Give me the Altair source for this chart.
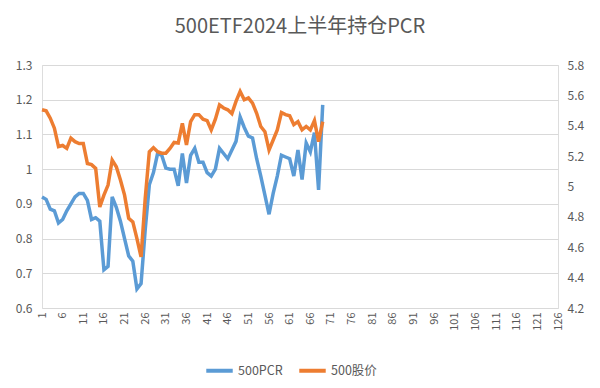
import altair as alt
import pandas as pd

title_text = "500ETF2024上半年持仓PCR"
series_names = ["500PCR", "500股价"]
series_colors = ["#5B9BD5", "#ED7D31"]

pcr = [0.92, 0.913, 0.885, 0.88, 0.845, 0.855, 0.88, 0.90, 0.92, 0.93,
       0.93, 0.91, 0.855, 0.86, 0.85, 0.71, 0.72, 0.92, 0.89, 0.85,
       0.80, 0.75, 0.735, 0.655, 0.67, 0.825, 0.955, 0.99, 1.045, 1.04,
       1.003, 1.0, 1.0, 0.952, 1.045, 0.96, 1.04, 1.06, 1.02, 1.02,
       0.99, 0.98, 1.0, 1.06, 1.045, 1.03, 1.055, 1.08, 1.15, 1.12,
       1.095, 1.09, 1.03, 0.98, 0.925, 0.87, 0.93, 0.98, 1.04, 1.035,
       1.03, 0.98, 1.055, 0.97, 1.075, 1.05, 1.105, 0.94, 1.185]

price = [5.505, 5.498, 5.450, 5.384, 5.263, 5.270, 5.251, 5.318, 5.295, 5.283,
         5.283, 5.151, 5.144, 5.119, 4.865, 4.943, 5.009, 5.174, 5.130, 5.043,
         4.943, 4.790, 4.767, 4.657, 4.536, 4.920, 5.229, 5.256, 5.229, 5.219,
         5.219, 5.251, 5.290, 5.286, 5.416, 5.274, 5.427, 5.473, 5.473, 5.443,
         5.434, 5.373, 5.443, 5.537, 5.517, 5.505, 5.480, 5.560, 5.626, 5.571,
         5.583, 5.549, 5.482, 5.395, 5.361, 5.240, 5.306, 5.373, 5.487, 5.473,
         5.466, 5.407, 5.427, 5.373, 5.395, 5.373, 5.434, 5.295, 5.427]

x_ticks = list(range(1, 127, 5))
left_ticks = [0.6, 0.7, 0.8, 0.9, 1.0, 1.1, 1.2, 1.3]
right_ticks = [4.2, 4.4, 4.6, 4.8, 5.0, 5.2, 5.4, 5.6, 5.8]

df = pd.DataFrame({"day": list(range(1, len(pcr) + 1)), "pcr": pcr, "price": price})

FONT = "Noto Sans CJK SC"
GRAY = "#595959"

x_enc = alt.X(
    "day:Q",
    scale=alt.Scale(domain=[1, 126], nice=False, zero=False),
    axis=alt.Axis(values=x_ticks, labelAngle=-90, grid=False, domain=False,
                  ticks=False, title=None, labelFontSize=11, labelColor=GRAY,
                  labelFont=FONT, labelPadding=4, labelOverlap=False),
)

color_scale = alt.Scale(domain=series_names, range=series_colors)
legend = alt.Legend(title=None, orient="none", direction="horizontal",
                    legendX=162, legendY=290, symbolType="stroke",
                    symbolStrokeWidth=4, symbolSize=700, labelFontSize=12.5,
                    labelColor=GRAY, labelFont=FONT, columnPadding=8,
                    labelOffset=3)

pcr_line = alt.Chart(df).mark_line(strokeWidth=3.5).encode(
    x=x_enc,
    y=alt.Y("pcr:Q", scale=alt.Scale(domain=[0.6, 1.3], nice=False, zero=False),
            axis=alt.Axis(values=left_ticks, format=".1~f", grid=True,
                          gridColor="#D9D9D9", gridWidth=1, domain=False,
                          ticks=False, title=None, labelFontSize=12,
                          labelColor=GRAY, labelFont=FONT, labelPadding=10)),
    color=alt.Color("s:N", scale=color_scale, legend=legend),
).transform_calculate(s="'500PCR'")

price_line = alt.Chart(df).mark_line(strokeWidth=3.5).encode(
    x=x_enc,
    y=alt.Y("price:Q", scale=alt.Scale(domain=[4.2, 5.8], nice=False, zero=False),
            axis=alt.Axis(values=right_ticks, format=".1~f", grid=False,
                          domain=False, ticks=False, title=None, orient="right",
                          labelFontSize=12, labelColor=GRAY, labelFont=FONT,
                          labelPadding=9)),
    color=alt.Color("s:N", scale=color_scale, legend=legend),
).transform_calculate(s="'500股价'")

chart = alt.layer(pcr_line, price_line).resolve_scale(y="independent").properties(
    width=516,
    height=243,
    autosize=alt.AutoSizeParams(type="none"),
    padding={"left": 34, "top": 57, "right": 34, "bottom": 72},
    title=alt.TitleParams(text=title_text, fontSize=20, font=FONT, color=GRAY,
                          fontWeight="normal", anchor="middle", offset=22),
).configure_view(stroke=None).configure(background="white")

chart.save("out.html", embed_options={"renderer": "svg", "actions": False})
